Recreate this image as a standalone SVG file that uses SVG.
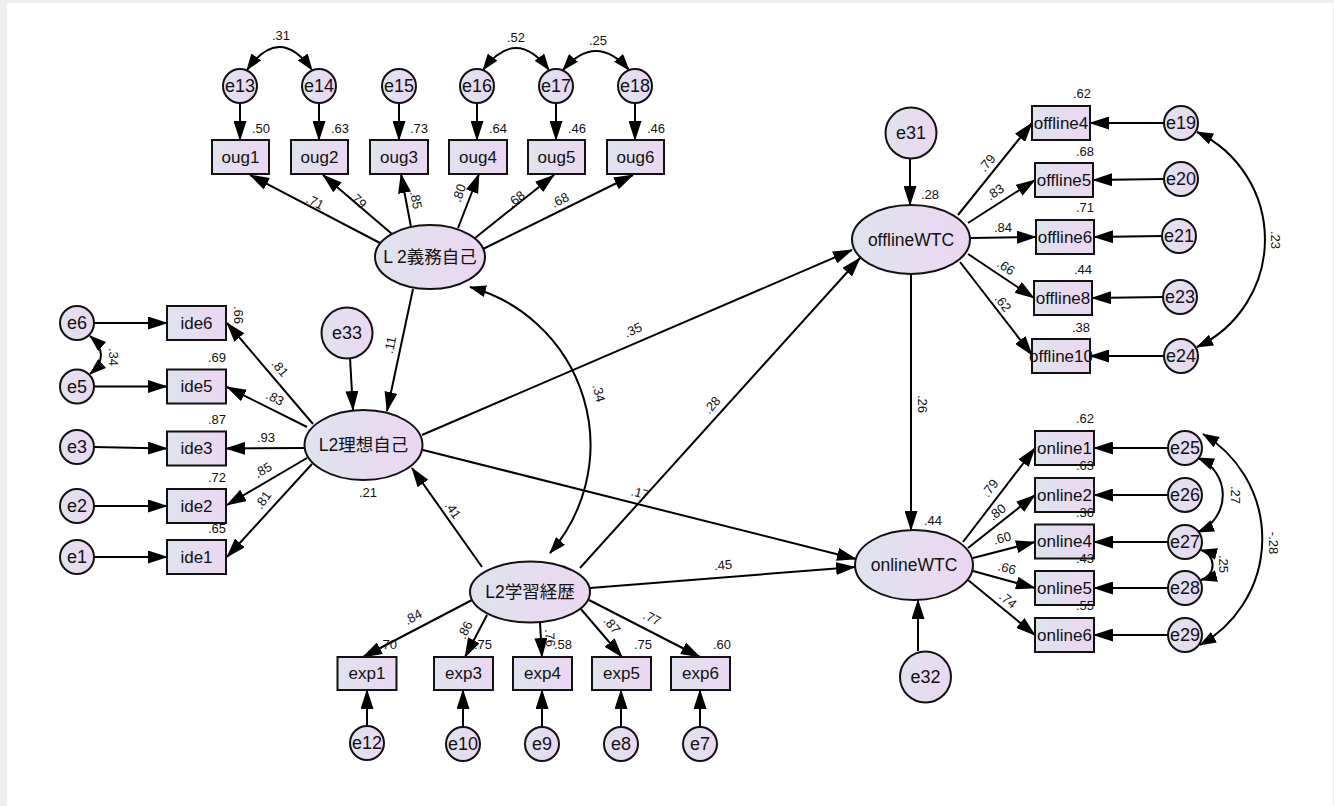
<svg xmlns="http://www.w3.org/2000/svg" width="1334" height="806" viewBox="0 0 1334 806">
<defs>
<linearGradient id="gf" x1="0" y1="0" x2="1" y2="0">
<stop offset="0" stop-color="#dfe3ee"/>
<stop offset="1" stop-color="#ecd6f2"/>
</linearGradient>
<marker id="ah" markerUnits="userSpaceOnUse" markerWidth="20" markerHeight="13" refX="19" refY="6.5" orient="auto-start-reverse" viewBox="0 0 20 13">
<path d="M0,0 L20,6.5 L0,13 z" fill="#000"/>
</marker>
<marker id="ac" markerUnits="userSpaceOnUse" markerWidth="17" markerHeight="12" refX="16" refY="6" orient="auto-start-reverse" viewBox="0 0 17 12">
<path d="M0,0 L17,6 L0,12 z" fill="#000"/>
</marker>
</defs>
<style>
.n{fill:url(#gf);stroke:#111;stroke-width:2}
.t{font-family:"Liberation Sans","Noto Sans CJK JP",sans-serif;fill:#111;text-anchor:middle;dominant-baseline:central}
.bx{font-size:17px}
.el{font-size:17.5px}
.er{font-size:18px}
.v{font-family:"Liberation Sans",sans-serif;font-size:13px;fill:#111;text-anchor:middle;dominant-baseline:central}
.c line,.c path{stroke:#000;stroke-width:2;fill:none}
.a{marker-end:url(#ah)}
.cv{marker-start:url(#ac);marker-end:url(#ac)}
</style>
<rect x="0" y="0" width="1334" height="806" fill="#efefef"/>
<rect x="7" y="3" width="1326" height="803" fill="#fff"/>

<g id="connectors" class="c">
<line class="a" x1="240" y1="103" x2="240" y2="140"/>
<line class="a" x1="319" y1="103" x2="319" y2="140"/>
<line class="a" x1="399" y1="103" x2="399" y2="140"/>
<line class="a" x1="477" y1="103" x2="477" y2="140"/>
<line class="a" x1="556" y1="103" x2="556" y2="140"/>
<line class="a" x1="635" y1="103" x2="635" y2="140"/>
<path class="cv" d="M247,70 Q279.5,24 312,70"/>
<path class="cv" d="M483,70 Q516,26 549,70"/>
<path class="cv" d="M563,70 Q596,32 629,70"/>
<line class="a" x1="380" y1="243" x2="250" y2="175"/>
<line class="a" x1="392" y1="234" x2="323" y2="175"/>
<line class="a" x1="411" y1="227" x2="401" y2="174"/>
<line class="a" x1="458" y1="228" x2="479" y2="174"/>
<line class="a" x1="475" y1="238" x2="554" y2="175"/>
<line class="a" x1="483" y1="249" x2="633" y2="175"/>
<line class="a" x1="94" y1="323" x2="167" y2="323"/>
<line class="a" x1="94" y1="386.5" x2="167" y2="386.5"/>
<line class="a" x1="94" y1="447" x2="167" y2="448.5"/>
<line class="a" x1="94" y1="506" x2="167" y2="506"/>
<line class="a" x1="94" y1="557" x2="167" y2="557"/>
<path class="cv" d="M90,336 Q112,355 90,374"/>
<line class="a" x1="313" y1="424" x2="227" y2="323"/>
<line class="a" x1="307" y1="427" x2="227" y2="387"/>
<line class="a" x1="304" y1="448" x2="226" y2="448.5"/>
<line class="a" x1="307" y1="458" x2="227" y2="505"/>
<line class="a" x1="312" y1="464" x2="227" y2="557"/>
<line class="a" x1="350" y1="358" x2="353" y2="410"/>
<line class="a" x1="413" y1="289" x2="387" y2="411"/>
<line class="a" x1="367" y1="725" x2="367" y2="690"/>
<line class="a" x1="463" y1="727" x2="463" y2="690"/>
<line class="a" x1="542" y1="727" x2="542" y2="690"/>
<line class="a" x1="621" y1="727" x2="621" y2="690"/>
<line class="a" x1="700" y1="727" x2="700" y2="690"/>
<line class="a" x1="472" y1="600" x2="363" y2="657"/>
<line class="a" x1="487" y1="615" x2="465" y2="657"/>
<line class="a" x1="540" y1="623" x2="542" y2="657"/>
<line class="a" x1="580" y1="608" x2="622" y2="657"/>
<line class="a" x1="589" y1="600" x2="700" y2="657"/>
<line class="a" x1="482" y1="567" x2="412" y2="468"/>
<path class="cv" d="M470,287 A164,164 0 0 1 550,553"/>
<line class="a" x1="422" y1="435" x2="852" y2="250"/>
<line class="a" x1="580" y1="568" x2="860" y2="258"/>
<line class="a" x1="423" y1="450" x2="856" y2="559"/>
<line class="a" x1="590" y1="588" x2="855" y2="567"/>
<line class="a" x1="910" y1="158" x2="910" y2="205"/>
<line class="a" x1="911" y1="274" x2="911" y2="530"/>
<line class="a" x1="918" y1="651" x2="918" y2="600"/>
<line class="a" x1="958" y1="215" x2="1032" y2="123"/>
<line class="a" x1="968" y1="223" x2="1035" y2="180"/>
<line class="a" x1="971" y1="238" x2="1036" y2="237"/>
<line class="a" x1="968" y1="254" x2="1034" y2="298"/>
<line class="a" x1="960" y1="262" x2="1032" y2="355"/>
<line class="a" x1="1164" y1="123" x2="1090" y2="123"/>
<line class="a" x1="1164" y1="179" x2="1093" y2="180"/>
<line class="a" x1="1162" y1="236" x2="1094" y2="237"/>
<line class="a" x1="1163" y1="297" x2="1092" y2="298"/>
<line class="a" x1="1164" y1="356" x2="1090" y2="356"/>
<path class="cv" d="M1197,132 A119,119 0 0 1 1197,347"/>
<line class="a" x1="963" y1="542" x2="1035" y2="448"/>
<line class="a" x1="968" y1="548" x2="1035" y2="495"/>
<line class="a" x1="973" y1="558" x2="1035" y2="542"/>
<line class="a" x1="973" y1="571" x2="1035" y2="588"/>
<line class="a" x1="968" y1="580" x2="1035" y2="635"/>
<line class="a" x1="1168" y1="448" x2="1094" y2="448"/>
<line class="a" x1="1168" y1="495" x2="1094" y2="495"/>
<line class="a" x1="1168" y1="542" x2="1094" y2="542"/>
<line class="a" x1="1168" y1="588" x2="1094" y2="588"/>
<line class="a" x1="1168" y1="635" x2="1094" y2="635"/>
<path class="cv" d="M1198,458 A40,40 0 0 1 1198,532"/>
<path class="cv" d="M1201,550 A15.5,15.5 0 0 1 1201,580"/>
<path class="cv" d="M1203,434 A122,122 0 0 1 1200,645"/>
</g>

<g id="oug1"><rect class="n" x="212" y="140" width="57" height="34"/><text class="t bx" x="240.5" y="157">oug1</text></g>
<g id="oug2"><rect class="n" x="291" y="140" width="57" height="34"/><text class="t bx" x="319.5" y="157">oug2</text></g>
<g id="oug3"><rect class="n" x="370" y="140" width="58" height="34"/><text class="t bx" x="399" y="157">oug3</text></g>
<g id="oug4"><rect class="n" x="449" y="140" width="58" height="34"/><text class="t bx" x="478" y="157">oug4</text></g>
<g id="oug5"><rect class="n" x="528" y="140" width="57" height="34"/><text class="t bx" x="556.5" y="157">oug5</text></g>
<g id="oug6"><rect class="n" x="607" y="140" width="57" height="34"/><text class="t bx" x="635.5" y="157">oug6</text></g>
<g id="e13"><circle class="n" cx="240" cy="86" r="17"/><text class="t er" x="240" y="86">e13</text></g>
<g id="e14"><circle class="n" cx="319" cy="86" r="17"/><text class="t er" x="319" y="86">e14</text></g>
<g id="e15"><circle class="n" cx="399" cy="86" r="17"/><text class="t er" x="399" y="86">e15</text></g>
<g id="e16"><circle class="n" cx="477" cy="86" r="17"/><text class="t er" x="477" y="86">e16</text></g>
<g id="e17"><circle class="n" cx="556" cy="86" r="17"/><text class="t er" x="556" y="86">e17</text></g>
<g id="e18"><circle class="n" cx="635" cy="86" r="17"/><text class="t er" x="635" y="86">e18</text></g>

<g id="L2oblig"><ellipse class="n" cx="430" cy="257" rx="55" ry="32"/><text class="t el" x="430" y="257">L 2義務自己</text></g>
<g id="L2ideal"><ellipse class="n" cx="363.5" cy="445" rx="59" ry="35"/><text class="t el" x="363.5" y="445">L2理想自己</text></g>
<g id="L2exp"><ellipse class="n" cx="530" cy="592" rx="60" ry="30.5"/><text class="t el" x="530" y="592">L2学習経歴</text></g>
<g id="offlineWTC"><ellipse class="n" cx="911" cy="239.5" rx="59" ry="34.5"/><text class="t el" x="911" y="239.5">offlineWTC</text></g>
<g id="onlineWTC"><ellipse class="n" cx="914" cy="565" rx="59" ry="35"/><text class="t el" x="914" y="565">onlineWTC</text></g>

<g id="e33"><circle class="n" cx="347" cy="333" r="25.5"/><text class="t er" x="347" y="333">e33</text></g>
<g id="e31"><circle class="n" cx="911" cy="133" r="25.5"/><text class="t er" x="911" y="133">e31</text></g>
<g id="e32"><circle class="n" cx="925.5" cy="677" r="25.5"/><text class="t er" x="925.5" y="677">e32</text></g>

<g id="ide6"><rect class="n" x="167" y="306" width="59" height="34"/><text class="t bx" x="196.5" y="323">ide6</text></g>
<g id="ide5"><rect class="n" x="167" y="369.5" width="59" height="34"/><text class="t bx" x="196.5" y="386.5">ide5</text></g>
<g id="ide3"><rect class="n" x="167" y="431.5" width="59" height="34"/><text class="t bx" x="196.5" y="448.5">ide3</text></g>
<g id="ide2"><rect class="n" x="167" y="489" width="59" height="34"/><text class="t bx" x="196.5" y="506">ide2</text></g>
<g id="ide1"><rect class="n" x="167" y="540" width="59" height="34"/><text class="t bx" x="196.5" y="557">ide1</text></g>
<g id="e6"><circle class="n" cx="77" cy="323" r="17"/><text class="t er" x="77" y="323">e6</text></g>
<g id="e5"><circle class="n" cx="77" cy="386.5" r="17"/><text class="t er" x="77" y="386.5">e5</text></g>
<g id="e3"><circle class="n" cx="77" cy="447" r="17"/><text class="t er" x="77" y="447">e3</text></g>
<g id="e2"><circle class="n" cx="77" cy="506" r="17"/><text class="t er" x="77" y="506">e2</text></g>
<g id="e1"><circle class="n" cx="77" cy="557" r="17"/><text class="t er" x="77" y="557">e1</text></g>

<g id="exp1"><rect class="n" x="337.5" y="657" width="59" height="33"/><text class="t bx" x="367" y="673.5">exp1</text></g>
<g id="exp3"><rect class="n" x="434" y="657" width="59" height="33"/><text class="t bx" x="463.5" y="673.5">exp3</text></g>
<g id="exp4"><rect class="n" x="513" y="657" width="59" height="33"/><text class="t bx" x="542.5" y="673.5">exp4</text></g>
<g id="exp5"><rect class="n" x="592" y="657" width="59" height="33"/><text class="t bx" x="621.5" y="673.5">exp5</text></g>
<g id="exp6"><rect class="n" x="671" y="657" width="59" height="33"/><text class="t bx" x="700.5" y="673.5">exp6</text></g>
<g id="e12"><circle class="n" cx="367" cy="743" r="17"/><text class="t er" x="367" y="743">e12</text></g>
<g id="e10"><circle class="n" cx="463" cy="744" r="17"/><text class="t er" x="463" y="744">e10</text></g>
<g id="e9"><circle class="n" cx="542" cy="744" r="17"/><text class="t er" x="542" y="744">e9</text></g>
<g id="e8"><circle class="n" cx="621" cy="744" r="17"/><text class="t er" x="621" y="744">e8</text></g>
<g id="e7"><circle class="n" cx="700" cy="744" r="17"/><text class="t er" x="700" y="744">e7</text></g>

<g id="offline4"><rect class="n" x="1032" y="106" width="58" height="34"/><text class="t bx" x="1061" y="123">offline4</text></g>
<g id="offline5"><rect class="n" x="1035" y="163" width="58" height="34"/><text class="t bx" x="1064" y="180">offline5</text></g>
<g id="offline6"><rect class="n" x="1036" y="220" width="58" height="34"/><text class="t bx" x="1065" y="237">offline6</text></g>
<g id="offline8"><rect class="n" x="1034" y="281" width="58" height="34"/><text class="t bx" x="1063" y="298">offline8</text></g>
<g id="offline10"><rect class="n" x="1032" y="339" width="58" height="34"/><text class="t bx" x="1061" y="356">offline10</text></g>
<g id="e19"><circle class="n" cx="1181" cy="123" r="17"/><text class="t er" x="1181" y="123">e19</text></g>
<g id="e20"><circle class="n" cx="1181" cy="179" r="17"/><text class="t er" x="1181" y="179">e20</text></g>
<g id="e21"><circle class="n" cx="1179" cy="236" r="17"/><text class="t er" x="1179" y="236">e21</text></g>
<g id="e23"><circle class="n" cx="1180" cy="297" r="17"/><text class="t er" x="1180" y="297">e23</text></g>
<g id="e24"><circle class="n" cx="1181" cy="356" r="17"/><text class="t er" x="1181" y="356">e24</text></g>

<g id="online1"><rect class="n" x="1035" y="431" width="59" height="34"/><text class="t bx" x="1064.5" y="448">online1</text></g>
<g id="online2"><rect class="n" x="1035" y="478" width="59" height="34"/><text class="t bx" x="1064.5" y="495">online2</text></g>
<g id="online4"><rect class="n" x="1035" y="524.5" width="59" height="34"/><text class="t bx" x="1064.5" y="541.5">online4</text></g>
<g id="online5"><rect class="n" x="1035" y="571" width="59" height="34"/><text class="t bx" x="1064.5" y="588">online5</text></g>
<g id="online6"><rect class="n" x="1035" y="618" width="59" height="34"/><text class="t bx" x="1064.5" y="635">online6</text></g>
<g id="e25"><circle class="n" cx="1185" cy="448" r="17"/><text class="t er" x="1185" y="448">e25</text></g>
<g id="e26"><circle class="n" cx="1185" cy="495" r="17"/><text class="t er" x="1185" y="495">e26</text></g>
<g id="e27"><circle class="n" cx="1185" cy="542" r="17"/><text class="t er" x="1185" y="542">e27</text></g>
<g id="e28"><circle class="n" cx="1185" cy="588" r="17"/><text class="t er" x="1185" y="588">e28</text></g>
<g id="e29"><circle class="n" cx="1185" cy="635" r="17"/><text class="t er" x="1185" y="635">e29</text></g>

<g id="labels">
<text class="v" x="281" y="35">.31</text>
<text class="v" x="516" y="37">.52</text>
<text class="v" x="598" y="40">.25</text>
<text class="v" x="261" y="128">.50</text>
<text class="v" x="340" y="128">.63</text>
<text class="v" x="419" y="128">.73</text>
<text class="v" x="498" y="128">.64</text>
<text class="v" x="577" y="128">.46</text>
<text class="v" x="656" y="128">.46</text>
<text class="v" transform="translate(315,202) rotate(27)">.71</text>
<text class="v" transform="translate(358,200) rotate(43)">.79</text>
<text class="v" transform="translate(416,200) rotate(80)">.85</text>
<text class="v" transform="translate(459,193) rotate(-70)">.80</text>
<text class="v" transform="translate(516,199) rotate(-38)">.68</text>
<text class="v" transform="translate(560,200) rotate(-26)">.68</text>
<text class="v" transform="translate(113,357) rotate(90)">.34</text>
<text class="v" transform="translate(238,315) rotate(90)">.66</text>
<text class="v" x="217" y="357">.69</text>
<text class="v" x="217" y="419">.87</text>
<text class="v" x="217" y="477">.72</text>
<text class="v" x="217" y="528">.65</text>
<text class="v" transform="translate(280,368) rotate(50)">.81</text>
<text class="v" transform="translate(275,398) rotate(27)">.83</text>
<text class="v" x="266" y="437">.93</text>
<text class="v" transform="translate(263,470) rotate(-30)">.85</text>
<text class="v" transform="translate(263,500) rotate(-55)">.81</text>
<text class="v" x="368" y="492">.21</text>
<text class="v" transform="translate(390,345) rotate(-78)">.11</text>
<text class="v" x="388" y="644">.70</text>
<text class="v" x="483" y="644">.75</text>
<text class="v" x="563" y="644">.58</text>
<text class="v" x="643" y="644">.75</text>
<text class="v" x="722" y="644">.60</text>
<text class="v" transform="translate(413,617) rotate(-28)">.84</text>
<text class="v" transform="translate(465,630) rotate(-63)">.86</text>
<text class="v" transform="translate(550,638) rotate(86)">.76</text>
<text class="v" transform="translate(612,625) rotate(50)">.87</text>
<text class="v" transform="translate(652,618) rotate(27)">.77</text>
<text class="v" transform="translate(453,510) rotate(55)">.41</text>
<text class="v" transform="translate(599,393) rotate(75)">.34</text>
<text class="v" transform="translate(633,330) rotate(-24)">.35</text>
<text class="v" transform="translate(712,405) rotate(-48)">.28</text>
<text class="v" transform="translate(640,493) rotate(14)">.17</text>
<text class="v" transform="translate(723,565) rotate(-5)">.45</text>
<text class="v" x="930" y="194">.28</text>
<text class="v" transform="translate(922,404) rotate(90)">.26</text>
<text class="v" x="933" y="520">.44</text>
<text class="v" x="1082" y="93">.62</text>
<text class="v" x="1085" y="151">.68</text>
<text class="v" x="1085" y="207">.71</text>
<text class="v" x="1083" y="269">.44</text>
<text class="v" x="1081" y="327">.38</text>
<text class="v" transform="translate(987,163) rotate(-51)">.79</text>
<text class="v" transform="translate(995,192) rotate(-33)">.83</text>
<text class="v" x="1003" y="227">.84</text>
<text class="v" transform="translate(1006,267) rotate(34)">.66</text>
<text class="v" transform="translate(1003,303) rotate(52)">.62</text>
<text class="v" transform="translate(1275,240) rotate(90)">.23</text>
<text class="v" x="1085" y="418">.62</text>
<text class="v" x="1085" y="465">.63</text>
<text class="v" x="1085" y="512">.36</text>
<text class="v" x="1085" y="558">.43</text>
<text class="v" x="1085" y="605">.55</text>
<text class="v" transform="translate(990,488) rotate(-53)">.79</text>
<text class="v" transform="translate(997,512) rotate(-38)">.80</text>
<text class="v" transform="translate(1002,538) rotate(-15)">.60</text>
<text class="v" transform="translate(1007,568) rotate(15)">.66</text>
<text class="v" transform="translate(1008,600) rotate(40)">.74</text>
<text class="v" transform="translate(1235,495) rotate(90)">.27</text>
<text class="v" transform="translate(1223,564) rotate(90)">.25</text>
<text class="v" transform="translate(1273,543) rotate(90)">-.28</text>
</g>
</svg>
